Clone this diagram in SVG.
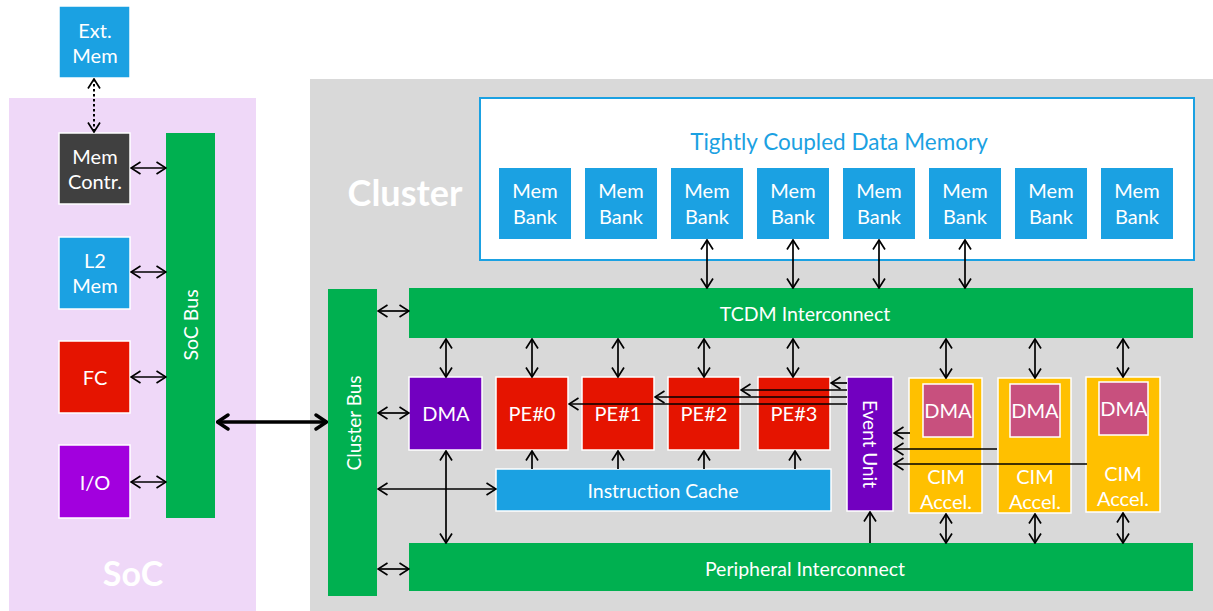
<svg xmlns="http://www.w3.org/2000/svg" width="1213" height="611" viewBox="0 0 1213 611">
<defs>
<marker id="ah" viewBox="0 0 12 14" refX="11" refY="7" markerWidth="12" markerHeight="14" markerUnits="userSpaceOnUse" orient="auto-start-reverse">
<path d="M1.5,1 L11,7 L1.5,13" fill="none" stroke="#000" stroke-width="1.7"/>
</marker>
<marker id="ahb" viewBox="0 0 14 18" refX="13" refY="9" markerWidth="14" markerHeight="18" markerUnits="userSpaceOnUse" orient="auto-start-reverse">
<path d="M2,2 L12.5,9 L2,16" fill="none" stroke="#000" stroke-width="3.4" stroke-linecap="round" stroke-linejoin="round"/>
</marker>
</defs>
<style>
text{font-family:Lato,"Noto Sans","Liberation Sans",sans-serif;fill:#fff;text-anchor:middle;dominant-baseline:central}
.b{stroke:#fff;stroke-width:1.5}
.blue{fill:#1BA1E2}
.green{fill:#00B050}
.red{fill:#E51400}
.pur{fill:#7200C0}
.yel{fill:#FFC000}
.pink{fill:#C8507E}
.t18{font-size:20px}
.t19{font-size:19.5px}
.t17{font-size:19px}
.big{font-size:34px;font-weight:bold}
.c line,.c path{stroke:#000;stroke-width:1.7;fill:none}
.d{marker-start:url(#ah);marker-end:url(#ah)}
.s{marker-end:url(#ah)}
</style>
<!-- backgrounds -->
<g id="soc">
<rect x="9" y="98" width="247" height="513" fill="#EFD8F8"/>
<text x="133" y="572" class="big">SoC</text>
</g>
<g id="cluster">
<rect x="310" y="79" width="903" height="532" fill="#D9D9D9"/>
<text x="405" y="192" class="big" style="font-size:36px">Cluster</text>
</g>
<g id="tcdm">
<rect x="480" y="98" width="714" height="162" fill="#fff" stroke="#1BA1E2" stroke-width="2"/>
<text x="839" y="141" style="fill:#1BA1E2;font-size:22.5px">Tightly Coupled Data Memory</text>
</g>
<g id="membanks">
<g id="bank0"><rect x="499" y="168" width="72" height="71" class="blue"/><text x="535" y="190" class="t18">Mem</text><text x="535" y="216" class="t18">Bank</text></g>
<g id="bank1"><rect x="585" y="168" width="72" height="71" class="blue"/><text x="621" y="190" class="t18">Mem</text><text x="621" y="216" class="t18">Bank</text></g>
<g id="bank2"><rect x="671" y="168" width="72" height="71" class="blue"/><text x="707" y="190" class="t18">Mem</text><text x="707" y="216" class="t18">Bank</text></g>
<g id="bank3"><rect x="757" y="168" width="72" height="71" class="blue"/><text x="793" y="190" class="t18">Mem</text><text x="793" y="216" class="t18">Bank</text></g>
<g id="bank4"><rect x="843" y="168" width="72" height="71" class="blue"/><text x="879" y="190" class="t18">Mem</text><text x="879" y="216" class="t18">Bank</text></g>
<g id="bank5"><rect x="929" y="168" width="72" height="71" class="blue"/><text x="965" y="190" class="t18">Mem</text><text x="965" y="216" class="t18">Bank</text></g>
<g id="bank6"><rect x="1015" y="168" width="72" height="71" class="blue"/><text x="1051" y="190" class="t18">Mem</text><text x="1051" y="216" class="t18">Bank</text></g>
<g id="bank7"><rect x="1101" y="168" width="72" height="71" class="blue"/><text x="1137" y="190" class="t18">Mem</text><text x="1137" y="216" class="t18">Bank</text></g>
</g>
<!-- SoC nodes -->
<g id="extmem"><rect x="59" y="6" width="71" height="72" class="blue b"/><text x="95" y="30" class="t18">Ext.</text><text x="95" y="55" class="t18">Mem</text></g>
<g id="memcontr"><rect x="59" y="133" width="71" height="71" fill="#404040" class="b"/><text x="95" y="156" class="t18">Mem</text><text x="95" y="181" class="t18">Contr.</text></g>
<g id="l2mem"><rect x="59" y="237" width="71" height="72" class="blue b"/><text x="95" y="260" class="t18">L2</text><text x="95" y="285" class="t18">Mem</text></g>
<g id="fc"><rect x="59" y="341" width="71" height="72" class="red b"/><text x="95" y="377" class="t18">FC</text></g>
<g id="io"><rect x="59" y="445" width="71" height="73" fill="#A200DE" class="b"/><text x="95" y="482" class="t18">I/O</text></g>
<g id="socbus"><rect x="166" y="133" width="49" height="385" class="green"/><text transform="translate(190,325) rotate(-90)" class="t19">SoC Bus</text></g>
<!-- Cluster nodes -->
<g id="clusterbus"><rect x="328" y="289" width="49" height="307" class="green"/><text transform="translate(353,423) rotate(-90)" class="t17">Cluster Bus</text></g>
<g id="tcdmic"><rect x="409" y="288" width="784" height="50" class="green"/><text x="805" y="313" class="t19">TCDM Interconnect</text></g>
<g id="periph"><rect x="409" y="543" width="784" height="48" class="green"/><text x="805" y="568" class="t19">Peripheral Interconnect</text></g>
<g id="dma"><rect x="409" y="377" width="73" height="73" class="pur b"/><text x="446" y="413" class="t18">DMA</text></g>
<g id="pe0"><rect x="496" y="377" width="72" height="73" class="red b"/><text x="532" y="413" class="t18">PE#0</text></g>
<g id="pe1"><rect x="582" y="377" width="72" height="73" class="red b"/><text x="618" y="413" class="t18">PE#1</text></g>
<g id="pe2"><rect x="668" y="377" width="72" height="73" class="red b"/><text x="704" y="413" class="t18">PE#2</text></g>
<g id="pe3"><rect x="758" y="377" width="72" height="73" class="red b"/><text x="794" y="413" class="t18">PE#3</text></g>
<g id="icache"><rect x="496" y="469" width="335" height="42" class="blue b"/><text x="663" y="490" class="t19">Instruction Cache</text></g>
<g id="eventunit"><rect x="847" y="377" width="46" height="134" class="pur b"/><text transform="translate(870,444) rotate(90)" class="t17">Event Unit</text></g>
<g id="cim0"><rect x="909" y="378" width="73" height="135" class="yel b"/><rect x="923" y="384" width="50" height="53" class="pink b"/><text x="948" y="410" class="t18">DMA</text><text x="946" y="476" class="t18">CIM</text><text x="946" y="501" class="t18">Accel.</text></g>
<g id="cim1"><rect x="998" y="378" width="73" height="135" class="yel b"/><rect x="1010" y="384" width="50" height="53" class="pink b"/><text x="1035" y="410" class="t18">DMA</text><text x="1035" y="476" class="t18">CIM</text><text x="1035" y="501" class="t18">Accel.</text></g>
<g id="cim2"><rect x="1086" y="377" width="74" height="135" class="yel b"/><rect x="1099" y="382" width="49" height="53" class="pink b"/><text x="1124" y="408" class="t18">DMA</text><text x="1123" y="473" class="t18">CIM</text><text x="1123" y="498" class="t18">Accel.</text></g>
<!-- connectors -->
<g id="connectors" class="c">
<line x1="94" y1="79" x2="94" y2="132" class="d" style="stroke-dasharray:2.5,2.5;stroke-width:2"/>
<line x1="131" y1="168" x2="166" y2="168" class="d"/>
<line x1="131" y1="272" x2="166" y2="272" class="d"/>
<line x1="131" y1="377" x2="166" y2="377" class="d"/>
<line x1="131" y1="482" x2="166" y2="482" class="d"/>
<line x1="217" y1="422" x2="327" y2="422" style="stroke-width:3.4;marker-start:url(#ahb);marker-end:url(#ahb)"/>
<line x1="707" y1="240" x2="707" y2="288" class="d"/>
<line x1="793" y1="240" x2="793" y2="288" class="d"/>
<line x1="879" y1="240" x2="879" y2="288" class="d"/>
<line x1="965" y1="240" x2="965" y2="288" class="d"/>
<line x1="378" y1="311" x2="409" y2="311" class="d"/>
<line x1="446" y1="339" x2="446" y2="377" class="d"/>
<line x1="532" y1="339" x2="532" y2="377" class="d"/>
<line x1="618" y1="339" x2="618" y2="377" class="d"/>
<line x1="704" y1="339" x2="704" y2="377" class="d"/>
<line x1="793" y1="339" x2="793" y2="377" class="d"/>
<line x1="946" y1="339" x2="946" y2="378" class="d"/>
<line x1="1035" y1="339" x2="1035" y2="378" class="d"/>
<line x1="1123" y1="339" x2="1123" y2="377" class="d"/>
<line x1="378" y1="413" x2="409" y2="413" class="d"/>
<line x1="378" y1="489" x2="496" y2="489" class="d"/>
<line x1="446" y1="451" x2="446" y2="543" class="d"/>
<line x1="378" y1="569" x2="409" y2="569" class="d"/>
<line x1="532" y1="469" x2="532" y2="451" class="s"/>
<line x1="618" y1="469" x2="618" y2="451" class="s"/>
<line x1="704" y1="469" x2="704" y2="451" class="s"/>
<line x1="795" y1="469" x2="795" y2="451" class="s"/>
<line x1="847" y1="383" x2="831" y2="383" class="s"/>
<line x1="847" y1="390" x2="741" y2="390" class="s"/>
<line x1="847" y1="397" x2="655" y2="397" class="s"/>
<line x1="847" y1="404" x2="569" y2="404" class="s"/>
<line x1="910" y1="433" x2="894" y2="433" class="s"/>
<line x1="997" y1="449" x2="894" y2="449" class="s"/>
<line x1="1087" y1="464" x2="894" y2="464" class="s"/>
<line x1="870" y1="543" x2="870" y2="512" class="s"/>
<line x1="946" y1="514" x2="946" y2="543" class="d"/>
<line x1="1035" y1="514" x2="1035" y2="543" class="d"/>
<line x1="1123" y1="513" x2="1123" y2="543" class="d"/>
</g>
</svg>
